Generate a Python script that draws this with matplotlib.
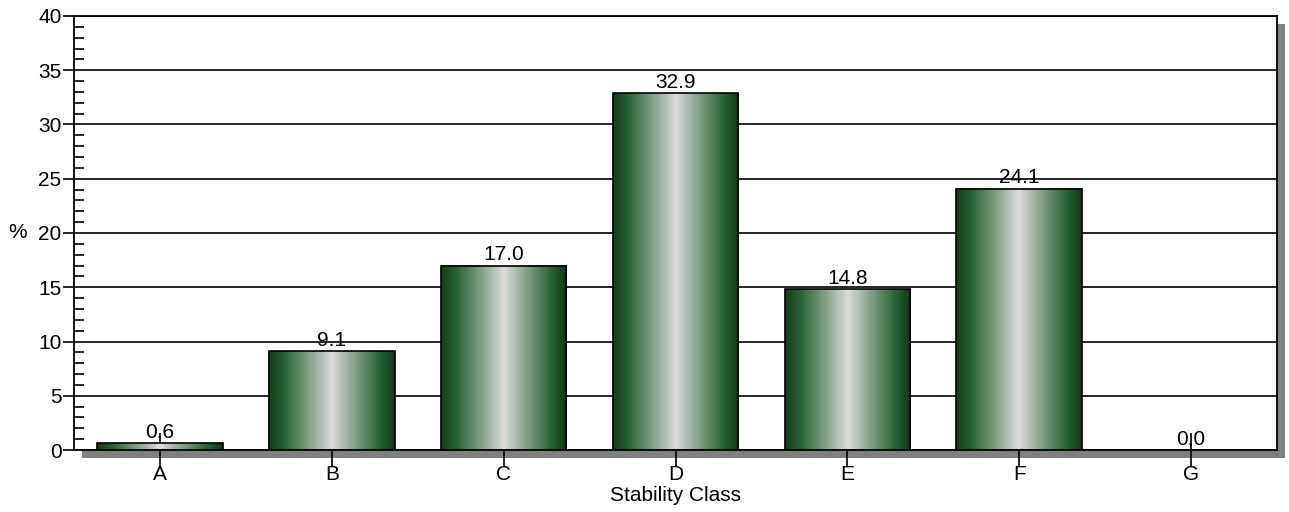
import numpy as np
import matplotlib
matplotlib.use("Agg")
import matplotlib.pyplot as plt
from matplotlib.colors import LinearSegmentedColormap
from matplotlib.patches import Rectangle
from matplotlib.ticker import MultipleLocator

categories = ["A", "B", "C", "D", "E", "F", "G"]
values = [0.6, 9.1, 17.0, 32.9, 14.8, 24.1, 0.0]
labels = ["0.6", "9.1", "17.0", "32.9", "14.8", "24.1", "0,0"]

plt.rcParams['font.family'] = ['Liberation Sans', 'DejaVu Sans']
FS = 15

W, H = 1289, 512
fig = plt.figure(figsize=(W / 100, H / 100), dpi=100)
L, R, T, B = 74, 1277, 16, 450
ax = fig.add_axes([L / W, 1 - B / H, (R - L) / W, (B - T) / H])

# shadow
sh = 8
fig.patches.append(Rectangle(((L + sh) / W, 1 - (B + sh) / H), (R - L) / W, (B - T) / H,
                             transform=fig.transFigure, facecolor='#808080', edgecolor='none', zorder=-10))
ax.set_facecolor('white')

cmap = LinearSegmentedColormap.from_list('g', [
    (0.0, '#173d1b'), (0.1, '#1f5e2a'), (0.3, '#7a9a7e'), (0.5, '#dcdcdc'),
    (0.7, '#7a9a7e'), (0.9, '#1f5e2a'), (1.0, '#15361a')])
grad = np.linspace(0, 1, 256).reshape(1, -1)

bw = 0.73
x = np.arange(len(categories))
for xi, v, lab in zip(x, values, labels):
    if v > 0:
        ax.imshow(grad, extent=[xi - bw / 2, xi + bw / 2, 0, v], aspect='auto', cmap=cmap,
                  zorder=2, interpolation='bilinear')
        ax.add_patch(Rectangle((xi - bw / 2, 0), bw, v, facecolor='none', edgecolor='black',
                               linewidth=1.2, zorder=3))
    ax.annotate(lab, (xi, v), xytext=(0, 1), textcoords='offset points',
                ha='center', va='bottom', fontsize=FS, zorder=4)

ax.set_xlim(-0.5, 6.5)
ax.set_ylim(0, 40)
ax.yaxis.set_major_locator(MultipleLocator(5))
ax.yaxis.set_minor_locator(MultipleLocator(1))
ax.set_xticks(x)
ax.set_xticklabels(categories)
ax.grid(axis='y', which='major', color='black', linewidth=1.2, zorder=1)
ax.set_axisbelow(True)
ax.tick_params(axis='y', which='major', direction='out', length=8, width=1.2, labelsize=FS, pad=1)
ax.tick_params(axis='y', which='minor', direction='in', length=7, width=1.2)
ax.tick_params(axis='x', which='major', direction='inout', length=24, width=1.2, labelsize=FS, pad=-1)
for s in ax.spines.values():
    s.set_linewidth(1.3)
    s.set_zorder(5)
ax.set_xlabel('Stability Class', fontsize=FS, labelpad=1)
fig.text(18 / W, 1 - 233 / H, '%', fontsize=FS, ha='center', va='center')

fig.savefig('out.png', dpi=100)
